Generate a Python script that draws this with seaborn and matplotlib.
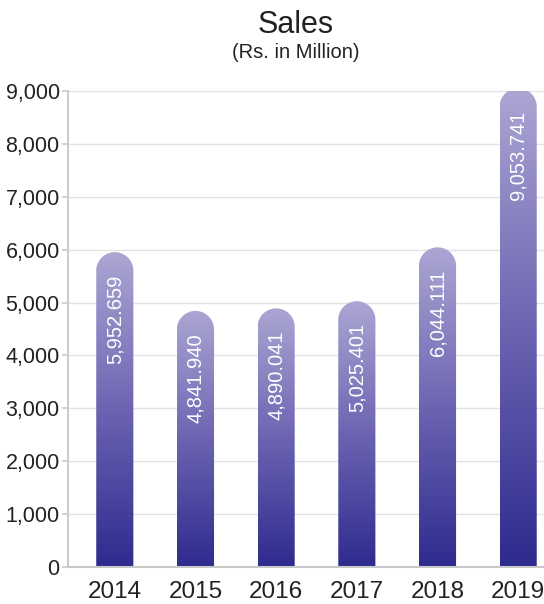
import numpy as np
import pandas as pd
import matplotlib
matplotlib.use("Agg")
import matplotlib.pyplot as plt
import seaborn as sns
from matplotlib.path import Path
from matplotlib.patches import PathPatch
from matplotlib.colors import LinearSegmentedColormap

years = ["2014", "2015", "2016", "2017", "2018", "2019"]
sales = [5952.659, 4841.940, 4890.041, 5025.401, 6044.111, 9053.741]
value_labels = ["5,952.659", "4,841.940", "4,890.041", "5,025.401", "6,044.111", "9,053.741"]
yticks = [0, 1000, 2000, 3000, 4000, 5000, 6000, 7000, 8000, 9000]

sns.set_theme(style="white")
plt.rcParams['font.family'] = ['Liberation Sans', 'DejaVu Sans']

W, H = 544, 604
fig = plt.figure(figsize=(W / 100, H / 100), dpi=100)
ax = fig.add_axes([68 / W, 1 - 567 / H, 1 - 68 / W, (567 - 91) / H])

df = pd.DataFrame({"year": years, "sales": sales})
sns.barplot(data=df, x="year", y="sales", ax=ax, width=0.46, color="#5a52a8")

xlim = (-0.58, 5.32)
ylim = (0, 9000)
ax.set_xlim(*xlim)
ax.set_ylim(*ylim)

cmap = LinearSegmentedColormap.from_list("g", ["#2e2b8e", "#6c64b2", "#aba6d3"])
grad = np.linspace(0, 1, 256).reshape(-1, 1)

ax_w_px = W - 68
ax_h_px = 567 - 91
px_per_x = ax_w_px / (xlim[1] - xlim[0])
px_per_y = ax_h_px / (ylim[1] - ylim[0])

patches = list(ax.patches)
for p, lab in zip(patches, value_labels):
    x0 = p.get_x()
    w = p.get_width()
    x1 = x0 + w
    top = p.get_height()
    p.set_visible(False)
    r_px = w * px_per_x / 2
    ry = r_px / px_per_y
    cx = (x0 + x1) / 2
    th = np.linspace(np.pi, 0, 40)
    arc = np.column_stack([cx + (w / 2) * np.cos(th), (top - ry) + ry * np.sin(th)])
    verts = np.vstack([[x0, 0], arc, [x1, 0], [x0, 0]])
    codes = [Path.MOVETO] + [Path.LINETO] * (len(verts) - 2) + [Path.CLOSEPOLY]
    clip = PathPatch(Path(verts, codes), transform=ax.transData, facecolor="none", edgecolor="none")
    ax.add_patch(clip)
    im = ax.imshow(grad, extent=[x0, x1, 0, top], origin="lower", cmap=cmap,
                   aspect="auto", zorder=2, interpolation="bilinear", clip_on=True)
    im.set_clip_path(clip)
    ax.annotate(lab, xy=(cx, top), xytext=(0, -22 * 72 / 100), textcoords="offset points",
                rotation=90, ha="center", va="top", color="white", fontsize=14.5, zorder=3,
                annotation_clip=False)

ax.set_xlim(*xlim)
ax.set_ylim(*ylim)
ax.set_yticks(yticks)
ax.set_yticklabels([f"{v:,}" for v in yticks], fontsize=15.5, color="#222222")
ax.tick_params(axis="x", labelsize=17.5, colors="#222222", length=0, pad=10)
ax.tick_params(axis="y", length=4, color="#cccccc", pad=2, left=True)
ax.set_xlabel("")
ax.set_ylabel("")
ax.grid(axis="y", color="#e3e3e3", linewidth=1)
ax.set_axisbelow(True)
for s in ["top", "right"]:
    ax.spines[s].set_visible(False)
ax.spines["left"].set_color("#cccccc")
ax.spines["bottom"].set_color("#c8c8c8")
ax.spines["left"].set_linewidth(1.5)
ax.spines["bottom"].set_linewidth(1.5)

fig.text(296 / W, 1 - 25 / H, "Sales", ha="center", va="center", fontsize=22, color="#222222")
fig.text(296 / W, 1 - 53 / H, "(Rs. in Million)", ha="center", va="center", fontsize=14.5, color="#222222")

fig.savefig("out.png", dpi=100)
